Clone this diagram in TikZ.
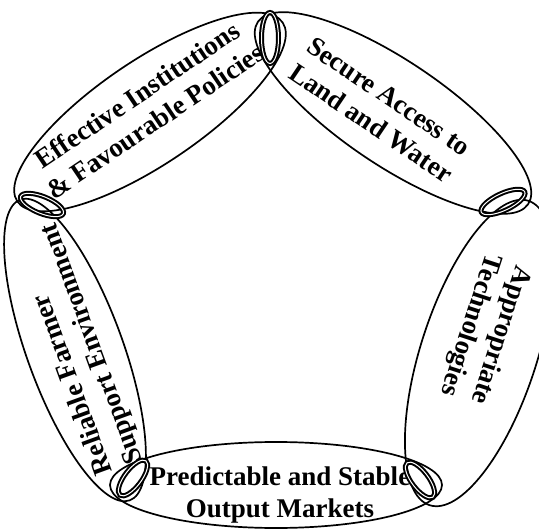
\documentclass[tikz,border=0pt]{standalone}
\usepackage{fontspec}
\setmainfont{Liberation Serif}
\usetikzlibrary{shapes.geometric}
\begin{document}
\begin{tikzpicture}[x=1pt,y=-1pt,
  ring/.style={draw, ellipse, line width=1.7pt, inner sep=0pt},
  linkring/.style={draw, ellipse, inner sep=0pt, line width=2pt, double=white, double distance=1pt},
  lbl/.style={font=\fontsize{27}{32}\selectfont\bfseries, align=center, inner sep=0pt}]
\useasboundingbox (0,0) rectangle (539,532);
% main ellipses
\node[ring, minimum width=320pt, minimum height=104pt, rotate=34] (e1) at (150,112) {};
\node[ring, minimum width=326pt, minimum height=104pt, rotate=-34] (e2) at (393,113) {};
\node[ring, minimum width=320pt, minimum height=116pt, rotate=-108] (e3) at (479,353) {};
\node[ring, minimum width=332pt, minimum height=86pt] (e4) at (276,485) {};
\node[ring, minimum width=320pt, minimum height=96pt, rotate=110] (e5) at (75,350) {};
% labels
\node[lbl, rotate=34] (t1) at (146,108) {Effective Institutions\\\& Favourable Policies};
\node[lbl, rotate=-34] (t2) at (380,110) {Secure Access to\\Land and Water};
\node[lbl, rotate=-108] (t3) at (485,330) {Appropriate\\Technologies};
\node[lbl] (t4) at (280,495) {Predictable and Stable\\Output Markets};
\node[lbl, rotate=110, align=left] (t5) at (78,349) {Reliable Farmer\\Support Environment};
% links
\node[linkring, minimum width=51pt, minimum height=17pt, rotate=90] (l1) at (270,38) {};
\node[linkring, minimum width=46pt, minimum height=17pt, rotate=-22] (l2) at (42,205) {};
\node[linkring, minimum width=48pt, minimum height=17pt, rotate=25] (l3) at (503,202) {};
\node[linkring, minimum width=43pt, minimum height=17pt, rotate=-53] (l4) at (420,480) {};
\node[linkring, minimum width=43pt, minimum height=17pt, rotate=53] (l5) at (133,478) {};
\end{tikzpicture}
\end{document}
